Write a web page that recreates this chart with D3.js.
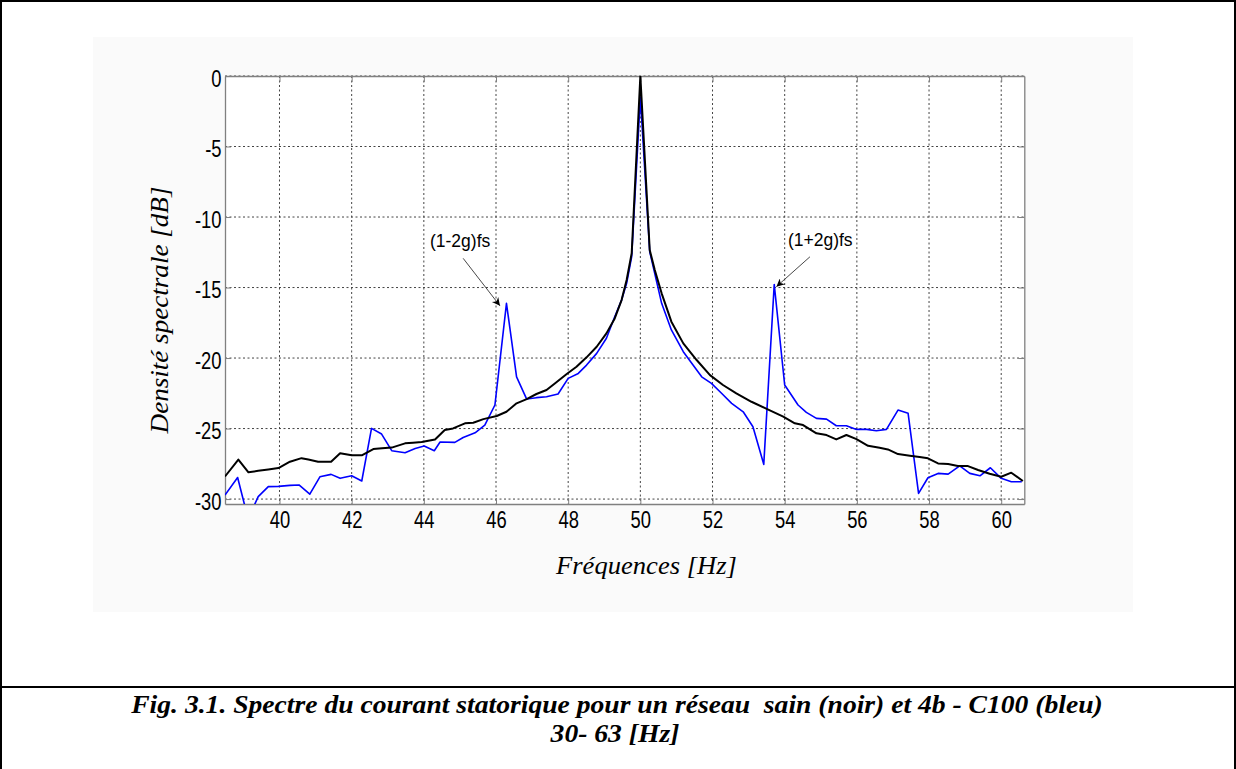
<!DOCTYPE html>
<html>
<head>
<meta charset="utf-8">
<script src="https://cdn.jsdelivr.net/npm/d3@7"></script>
<style>
  body { margin: 0; background: #fff; }
  svg { display: block; }
</style>
</head>
<body>
<div id="chart"></div>
<script>
// fréquences (Hz) et densité spectrale (dB)
var freqSain = [38.49, 38.86, 39.14, 39.41, 39.69, 39.97, 40.29, 40.61, 40.8, 41.07, 41.43, 41.68, 42.0, 42.28, 42.6, 42.84,
  43.11, 43.48, 43.7, 43.94, 44.31, 44.58, 44.81, 45.14, 45.37, 45.65, 46.02, 46.29, 46.57, 46.85, 47.12, 47.4,
  47.63, 47.96, 48.23, 48.51, 48.79, 49.06, 49.29, 49.48, 49.62, 49.76, 50.0, 50.26, 50.4, 50.59, 50.86, 51.19,
  51.56, 51.93, 52.29, 52.66, 53.08, 53.5, 53.96, 54.28, 54.51, 54.88, 55.16, 55.43, 55.71, 55.99, 56.31, 56.63,
  56.86, 57.14, 57.47, 57.74, 57.97, 58.25, 58.53, 58.8, 59.08, 59.36, 59.68, 60.0, 60.28, 60.6];
var dbSain = [-28.4, -27.2, -28.1, -28.0, -27.9, -27.8, -27.35, -27.1, -27.2, -27.35, -27.35, -26.75, -26.9, -26.9, -26.45, -26.4,
  -26.35, -26.05, -26.0, -25.95, -25.77, -25.1, -24.99, -24.63, -24.59, -24.33, -24.11, -23.81, -23.21, -22.91, -22.55, -22.27,
  -21.8, -21.13, -20.62, -19.95, -19.2, -18.25, -17.19, -15.89, -14.47, -12.57, 0, -12.34, -13.76, -15.41, -17.42, -18.96,
  -20.14, -21.21, -21.91, -22.5, -23.1, -23.6, -24.16, -24.63, -24.75, -25.34, -25.46, -25.77, -25.46, -25.75, -26.22, -26.36,
  -26.48, -26.81, -26.93, -27.02, -27.11, -27.47, -27.52, -27.66, -27.66, -27.94, -28.2, -28.42, -28.13, -28.72];

var freqDefaut = [38.49, 38.84, 39.13, 39.41, 39.69, 39.97, 40.29, 40.54, 40.84, 41.12, 41.43, 41.68, 42.0, 42.28, 42.55, 42.83,
  43.11, 43.48, 43.76, 44.01, 44.29, 44.45, 44.86, 45.09, 45.42, 45.69, 45.97, 46.29, 46.57, 46.85, 47.12, 47.4,
  47.72, 48.0, 48.28, 48.51, 48.79, 49.06, 49.29, 49.48, 49.62, 49.76, 50.0, 50.26, 50.59, 50.86, 51.19, 51.46,
  51.7, 51.97, 52.25, 52.53, 52.85, 53.12, 53.42, 53.71, 54.0, 54.37, 54.6, 54.88, 55.16, 55.43, 55.71, 55.99,
  56.27, 56.54, 56.82, 57.14, 57.42, 57.71, 57.97, 58.25, 58.53, 58.85, 59.13, 59.41, 59.7, 60.0, 60.28, 60.57];
var dbDefaut = [-29.72, -28.47, -31.4, -29.83, -29.12, -29.1, -29.03, -29.0, -29.65, -28.42, -28.25, -28.53, -28.35, -28.72, -24.99, -25.39,
  -26.57, -26.71, -26.41, -26.24, -26.57, -25.95, -25.98, -25.63, -25.3, -24.75, -23.33, -16.12, -21.33, -22.91, -22.81, -22.74,
  -22.55, -21.44, -21.09, -20.5, -19.67, -18.6, -17.07, -15.89, -14.7, -12.81, -1.5, -12.46, -16.12, -18.01, -19.55, -20.5,
  -21.33, -21.8, -22.5, -23.21, -23.81, -24.87, -27.54, -14.78, -21.91, -23.33, -23.85, -24.28, -24.33, -24.8, -24.8, -25.06,
  -25.06, -25.16, -25.06, -23.69, -23.92, -29.6, -28.49, -28.18, -28.23, -27.64, -28.18, -28.35, -27.78, -28.53, -28.77, -28.77];

var xTicks = [40, 42, 44, 46, 48, 50, 52, 54, 56, 58, 60];
var yTicks = [0, -5, -10, -15, -20, -25, -30];

var W = 1236, H = 769;
var pL = 225, pR = 1024.3, pT = 76, pB = 504;

var svg = d3.select("#chart").append("svg")
    .attr("width", W)
    .attr("height", H);

// zone de la figure (légèrement grise)
svg.append("rect")
    .attr("x", 93).attr("y", 37).attr("width", 1040).attr("height", 575)
    .attr("fill", "#fafafa");

// cadre du document
svg.append("rect").attr("x", 0).attr("y", 0).attr("width", W).attr("height", 2).attr("fill", "#000");
svg.append("rect").attr("x", 0).attr("y", 0).attr("width", 2).attr("height", H).attr("fill", "#000");
svg.append("rect").attr("x", W - 2).attr("y", 0).attr("width", 2).attr("height", H).attr("fill", "#000");
svg.append("rect").attr("x", 0).attr("y", 686).attr("width", W).attr("height", 2).attr("fill", "#000");

var x = d3.scaleLinear().domain([38.49, 60.64]).range([pL, pR]);
var y = d3.scaleLinear().domain([-30.35, 0]).range([pB, pT]);

svg.append("rect")
    .attr("x", pL).attr("y", pT)
    .attr("width", pR - pL).attr("height", pB - pT)
    .attr("fill", "#fff");

svg.append("defs").append("clipPath").attr("id", "clip")
  .append("rect")
    .attr("x", pL).attr("y", pT)
    .attr("width", pR - pL).attr("height", pB - pT);

// grille pointillée
var grid = svg.append("g");
grid.selectAll(".gx").data(xTicks).enter().append("line")
    .attr("x1", d => x(d)).attr("x2", d => x(d))
    .attr("y1", pT).attr("y2", pB)
    .attr("stroke", "#444").attr("stroke-width", 1).attr("stroke-dasharray", "2,2.5");
grid.selectAll(".gy").data(yTicks).enter().append("line")
    .attr("x1", pL).attr("x2", pR)
    .attr("y1", d => y(d)).attr("y2", d => y(d))
    .attr("stroke", "#444").attr("stroke-width", 1).attr("stroke-dasharray", "2,2.5");

// axes
var gx = svg.append("g").attr("transform", "translate(0," + pB + ")")
    .call(d3.axisBottom(x).tickValues(xTicks).tickSize(-6).tickSizeOuter(0).tickPadding(0));
var gy = svg.append("g").attr("transform", "translate(" + pL + ",0)")
    .call(d3.axisLeft(y).tickValues(yTicks).tickSize(-6).tickSizeOuter(0).tickFormat(d => String(d)));
svg.append("g").attr("transform", "translate(0," + pT + ")")
    .call(d3.axisTop(x).tickValues(xTicks).tickSize(-6).tickSizeOuter(0).tickFormat(""));
svg.append("g").attr("transform", "translate(" + pR + ",0)")
    .call(d3.axisRight(y).tickValues(yTicks).tickSize(-6).tickSizeOuter(0).tickFormat(""));

svg.selectAll(".domain").attr("stroke", "#808080").attr("stroke-width", 1.3);
svg.selectAll(".tick line").attr("stroke", "#808080");

gx.selectAll("text")
    .attr("font-family", "Arial, 'Liberation Sans', sans-serif")
    .attr("font-size", 23)
    .attr("fill", "#000")
    .attr("y", 24.3).attr("dy", null)
    .attr("transform", "scale(0.8,1)");
gy.selectAll("text")
    .attr("font-family", "Arial, 'Liberation Sans', sans-serif")
    .attr("font-size", 23)
    .attr("fill", "#000")
    .attr("x", -4.4).attr("y", 10.3).attr("dy", null)
    .attr("text-anchor", "end")
    .attr("transform", "scale(0.8,1)");

// courbes
var line = d3.line()
    .x(d => x(d[0]))
    .y(d => y(d[1]));

var plot = svg.append("g").attr("clip-path", "url(#clip)");
plot.append("path")
    .datum(d3.zip(freqDefaut, dbDefaut))
    .attr("d", line)
    .attr("fill", "none")
    .attr("stroke", "#0000ff")
    .attr("stroke-width", 1.6)
    .attr("stroke-linejoin", "round");
plot.append("path")
    .datum(d3.zip(freqSain, dbSain))
    .attr("d", line)
    .attr("fill", "none")
    .attr("stroke", "#000")
    .attr("stroke-width", 2)
    .attr("stroke-linejoin", "round");

// annotations
svg.append("defs").append("marker")
    .attr("id", "fleche")
    .attr("viewBox", "0 0 10 10")
    .attr("refX", 10).attr("refY", 5)
    .attr("markerWidth", 11).attr("markerHeight", 8)
    .attr("markerUnits", "userSpaceOnUse")
    .attr("orient", "auto")
  .append("path")
    .attr("d", "M0,0 L10,5 L0,10 L3,5 Z")
    .attr("fill", "#000");

var notes = [
  {label: "(1-2g)fs", tx: 44.17, ty: -12.1, from: [45.09, -12.93], to: [46.11, -16.3]},
  {label: "(1+2g)fs", tx: 54.09, ty: -12.04, from: [54.70, -12.82], to: [53.77, -14.94]}
];
notes.forEach(function(n) {
  svg.append("text")
      .attr("x", x(n.tx)).attr("y", y(n.ty))
      .attr("font-family", "Arial, 'Liberation Sans', sans-serif")
      .attr("font-size", 17.5)
      .text(n.label);
  svg.append("line")
      .attr("x1", x(n.from[0])).attr("y1", y(n.from[1]))
      .attr("x2", x(n.to[0])).attr("y2", y(n.to[1]))
      .attr("stroke", "#333").attr("stroke-width", 0.9)
      .attr("marker-end", "url(#fleche)");
});

// texte resserré horizontalement pour tenir dans une largeur donnée
function squeeze(sel, tx, ty, width, rot) {
  var w = sel.node().getComputedTextLength();
  var sx = width / w;
  sel.attr("transform", "translate(" + tx + "," + ty + ")" + (rot ? " rotate(" + rot + ")" : "") + " scale(" + sx + ",1)");
}

function serif(txt, size, bold) {
  return svg.append("text")
      .attr("x", 0).attr("y", 0)
      .attr("text-anchor", "middle")
      .attr("font-family", "'Times New Roman', 'Liberation Serif', serif")
      .attr("font-style", "italic")
      .attr("font-weight", bold ? "bold" : "normal")
      .attr("font-size", size)
      .style("white-space", "pre")
      .text(txt);
}

squeeze(serif("Fréquences [Hz]", 24.5), 646.5, 574, 181);
squeeze(serif("Densité spectrale [dB]", 24.5), 168, 310, 247, -90);

// légende de la figure
var cap1 = serif("Fig. 3.1. Spectre du courant statorique pour un réseau  sain (noir) et 4b - C100 (bleu)", 25, true);
var sx = 972 / cap1.node().getComputedTextLength();
cap1.attr("transform", "translate(617,713) scale(" + sx + ",1)");
serif("30- 63 [Hz]", 25, true)
    .attr("transform", "translate(615,742) scale(" + sx + ",1)");
</script>
</body>
</html>
